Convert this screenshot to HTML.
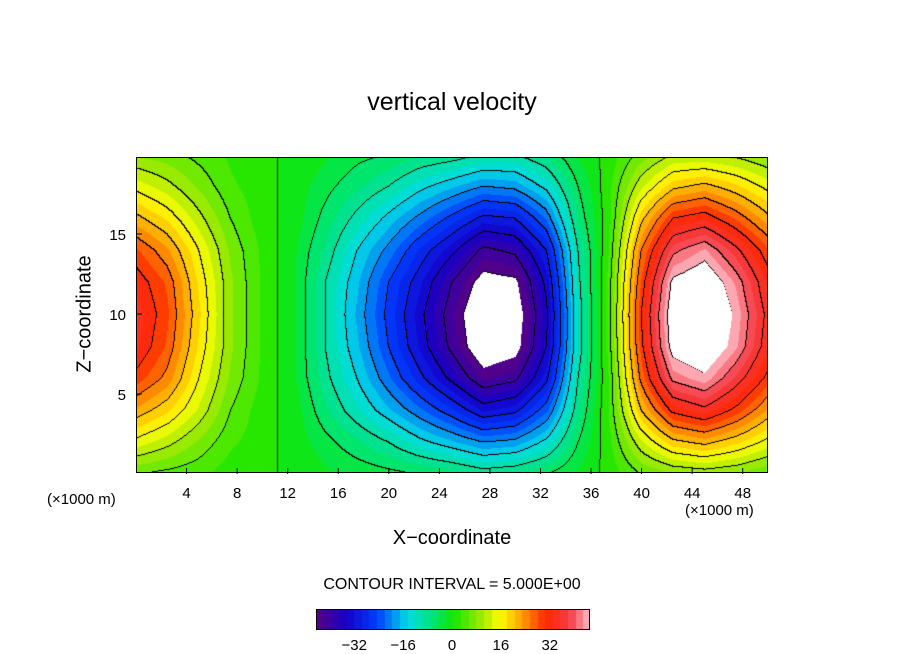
<!DOCTYPE html>
<html><head><meta charset="utf-8"><style>
body{margin:0;background:#fff;width:904px;height:654px;overflow:hidden;position:relative;font-family:"Liberation Sans",sans-serif;}
.t{position:absolute;color:#000;white-space:nowrap;}
</style></head><body>
<div class="t" style="left:0;width:904px;text-align:center;top:88px;font-size:25px;">vertical velocity</div>
<canvas id="plot" width="632" height="316" style="position:absolute;left:136px;top:157px;"></canvas>
<div style="position:absolute;left:136px;top:157px;width:630px;height:314px;border:1px solid #000;"></div>
<svg id="axes" width="904" height="654" style="position:absolute;left:0;top:0;"></svg>
<div class="t" style="left:85px;top:314px;font-size:20px;transform:translate(-50%,-50%) rotate(-90deg);">Z−coordinate</div>
<div class="t" style="left:0;width:904px;text-align:center;top:527px;font-size:20px;">X−coordinate</div>
<div class="t" style="left:47px;top:491px;font-size:15px;">(×1000 m)</div>
<div class="t" style="left:685px;top:502px;font-size:15px;">(×1000 m)</div>
<div class="t" style="left:0;width:904px;text-align:center;top:576px;font-size:16px;">CONTOUR INTERVAL = 5.000E+00</div>
<canvas id="cbar" width="272" height="19" style="position:absolute;left:316px;top:609px;border:1px solid #000;box-sizing:border-box;"></canvas>
<script>
const xs=[0,2.5,5,7.5,10,12.5,15,17.5,20,22.5,25,27.5,30,32.5,35,37.5,40,42.5,45,47.5,50];
const zs=[0,2,4,6,8,10,12,14,16,18,20];
const w=[
[5,4,3,1,0,0,-2,-3,-4,-5,-6,-8,-7,-5,-2,1,5,7,8,7,5],
[14,11,7,3,1,-1,-4,-7,-10,-14,-17,-20,-19,-14,-5,2,12,19,21,18,14],
[22,18,12,5,1,-1,-7,-12,-17,-22,-27,-33,-31,-23,-8,3,20,31,34,29,22],
[29,24,15,7,2,-2,-9,-15,-22,-29,-36,-43,-41,-31,-10,3,26,41,44,37,29],
[33,27,17,8,2,-2,-10,-17,-25,-33,-41,-49,-47,-35,-12,4,29,47,50,43,33],
[34,28,18,8,2,-2,-10,-18,-26,-34,-42,-50,-48,-36,-12,4,30,48,52,44,34],
[32,27,17,8,2,-2,-10,-17,-25,-32,-40,-47,-46,-34,-11,4,28,46,49,42,32],
[28,23,15,7,2,-2,-8,-15,-21,-28,-34,-41,-39,-30,-10,3,25,39,43,36,28],
[21,17,11,5,1,-1,-6,-11,-16,-21,-26,-31,-30,-22,-7,2,19,30,32,27,21],
[14,11,7,3,1,-1,-4,-7,-10,-14,-17,-20,-19,-14,-5,2,12,19,21,18,14],
[7,6,4,2,0,0,-2,-4,-5,-7,-8,-10,-10,-7,-2,1,6,10,10,9,7]];
const xTicks=[4,8,12,16,20,24,28,32,36,40,44,48];
const zTicks=[5,10,15];
const cbTicks=[-32,-16,0,16,32];
const X0=136,X1=768,Z0=474,PZ=16;
const sx=x=>X0+(x-0)*(X1-X0)/50, sz=z=>Z0-z*PZ;
const stops=[[-45,[90,0,130]],[-35,[20,0,200]],[-25,[0,60,255]],[-15,[0,220,230]],[-5,[0,230,90]],[0,[20,230,0]],[10,[170,235,0]],[15,[255,255,0]],[22,[255,165,0]],[30,[255,40,0]],[38,[245,60,70]],[45,[255,190,200]]];
function col(v){if(v<-45||v>45)return [255,255,255];v=Math.floor(v/2.5)*2.5+1.25;
for(let i=0;i<stops.length-1;i++){const a=stops[i],b=stops[i+1];if(v<=b[0]){const t=Math.max(0,(v-a[0])/(b[0]-a[0]));return a[1].map((c,k)=>Math.round(c+(b[1][k]-c)*t));}}return stops[stops.length-1][1];}
function val(x,z){let i=Math.min(xs.length-2,Math.max(0,Math.floor(x/2.5)));let j=Math.min(zs.length-2,Math.max(0,Math.floor(z/2)));
const tx=(x-xs[i])/2.5,tz=(z-zs[j])/2;
return (w[j][i]*(1-tx)+w[j][i+1]*tx)*(1-tz)+(w[j+1][i]*(1-tx)+w[j+1][i+1]*tx)*tz;}
const cv=document.getElementById('plot'),ctx=cv.getContext('2d'),W=632,H=316;
const img=ctx.createImageData(W,H),V=new Float32Array(W*H);
for(let py=0;py<H;py++)for(let px=0;px<W;px++){V[py*W+px]=val((px+0.5)*50/(X1-X0),(Z0-(157+py))/PZ);}
for(let py=0;py<H;py++)for(let px=0;px<W;px++){const v=V[py*W+px];let c=col(v);const b=Math.floor(v/5);
let line=false;if(px<W-1&&Math.floor(V[py*W+px+1]/5)!==b)line=true;if(py<H-1&&Math.floor(V[(py+1)*W+px]/5)!==b)line=true;
if(line&&Math.abs(v)<=45)c=[0,0,0];const o=(py*W+px)*4;img.data[o]=c[0];img.data[o+1]=c[1];img.data[o+2]=c[2];img.data[o+3]=255;}
ctx.putImageData(img,0,0);
const cb=document.getElementById('cbar'),cc=cb.getContext('2d');
for(let px=0;px<272;px++){const v=-44.5+px*89/272;const c=col(v);cc.fillStyle=`rgb(${c})`;cc.fillRect(px,0,1,19);}
const svg=document.getElementById('axes'),NS='http://www.w3.org/2000/svg';
function add(tag,attrs,txt){const e=document.createElementNS(NS,tag);for(const k in attrs)e.setAttribute(k,attrs[k]);if(txt!==undefined)e.textContent=txt;svg.appendChild(e);return e;}
xTicks.forEach(t=>{const l=add('line',{x1:sx(t),x2:sx(t),y1:Z0,y2:Z0-6,stroke:'#000'});


const e=add('text',{x:sx(t),y:498,'text-anchor':'middle','font-size':15,'font-family':'Liberation Sans'},t);

});
zTicks.forEach(t=>{const l=add('line',{x1:X0,x2:X0+6,y1:sz(t),y2:sz(t),stroke:'#000'});


const e=add('text',{x:126,y:sz(t)+6,'text-anchor':'end','font-size':15,'font-family':'Liberation Sans'},t);

});
cbTicks.forEach(t=>{const e=add('text',{x:316+(t+44.5)*272/89,y:650,'text-anchor':'middle','font-size':15,'font-family':'Liberation Sans'},t<0?'−'+(-t):t);

});
</script>
</body></html>
